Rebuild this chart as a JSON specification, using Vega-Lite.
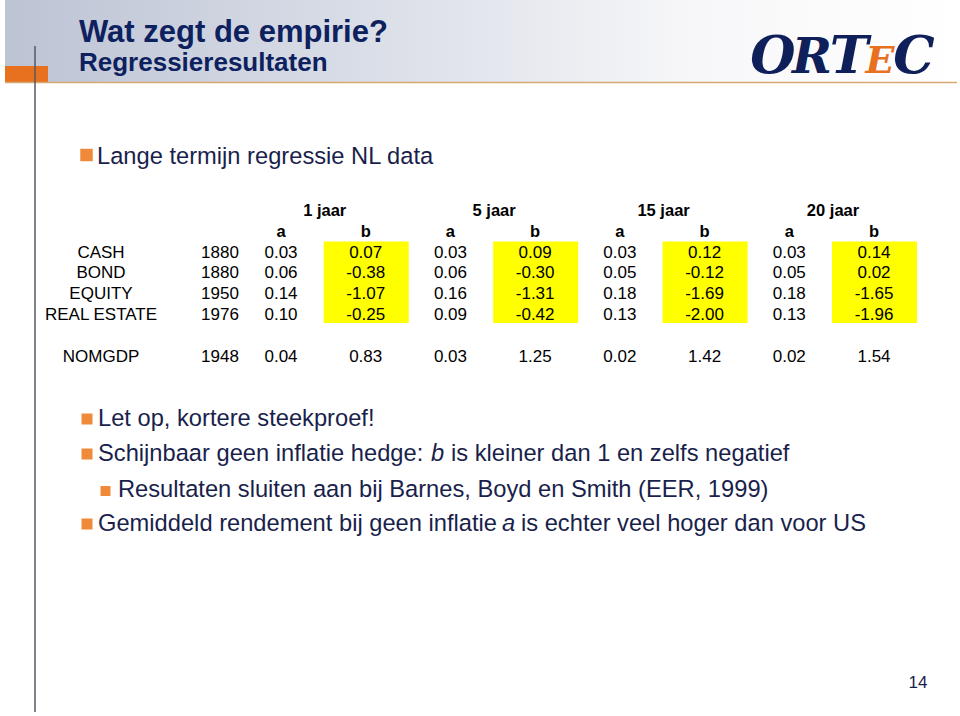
{
  "$schema": "https://vega.github.io/schema/vega-lite/v6.json",
  "width": 960,
  "height": 716,
  "padding": 0,
  "autosize": "none",
  "background": "white",
  "config": {
    "view": {"stroke": null},
    "axis": {"disable": true},
    "locale": {"number": {"decimal": ".", "thousands": ",", "grouping": [3], "currency": ["$", ""], "minus": "-"}},
    "text": {"font": "Liberation Sans"}
  },
  "datasets": {
    "coef": [
      {"asset": "CASH", "start": 1880, "a1": 0.03, "b1": 0.07, "a5": 0.03, "b5": 0.09, "a15": 0.03, "b15": 0.12, "a20": 0.03, "b20": 0.14},
      {"asset": "BOND", "start": 1880, "a1": 0.06, "b1": -0.38, "a5": 0.06, "b5": -0.30, "a15": 0.05, "b15": -0.12, "a20": 0.05, "b20": 0.02},
      {"asset": "EQUITY", "start": 1950, "a1": 0.14, "b1": -1.07, "a5": 0.16, "b5": -1.31, "a15": 0.18, "b15": -1.69, "a20": 0.18, "b20": -1.65},
      {"asset": "REAL ESTATE", "start": 1976, "a1": 0.10, "b1": -0.25, "a5": 0.09, "b5": -0.42, "a15": 0.13, "b15": -2.00, "a20": 0.13, "b20": -1.96},
      {"asset": "NOMGDP", "start": 1948, "a1": 0.04, "b1": 0.83, "a5": 0.03, "b5": 1.25, "a15": 0.02, "b15": 1.42, "a20": 0.02, "b20": 1.54}
    ],
    "cols": [
      {"col": "a1", "param": "a"}, {"col": "b1", "param": "b"},
      {"col": "a5", "param": "a"}, {"col": "b5", "param": "b"},
      {"col": "a15", "param": "a"}, {"col": "b15", "param": "b"},
      {"col": "a20", "param": "a"}, {"col": "b20", "param": "b"}
    ],
    "horizons": [
      {"col": "b1", "label": "1 jaar"}, {"col": "b5", "label": "5 jaar"},
      {"col": "b15", "label": "15 jaar"}, {"col": "b20", "label": "20 jaar"}
    ],
    "highlight": [{"col": "b1"}, {"col": "b5"}, {"col": "b15"}, {"col": "b20"}]
  },
  "layer": [
    {
      "data": {"values": [{"part": "banner"}]},
      "mark": {"type": "rect", "fill": {"gradient": "linear", "x1": 0, "y1": 0, "x2": 1, "y2": 0, "stops": [{"offset": 0, "color": "#bcc3d3"}, {"offset": 0.25, "color": "#d0d5e1"}, {"offset": 0.5, "color": "#e3e6ed"}, {"offset": 0.72, "color": "#f7f7f9"}, {"offset": 1, "color": "#ffffff"}]}},
      "encoding": {"x": {"value": 5}, "x2": {"value": 960}, "y": {"value": 0}, "y2": {"value": 82}}
    },
    {
      "data": {"values": [{"part": "block"}]},
      "mark": {"type": "rect", "fill": "#e8711f"},
      "encoding": {"x": {"value": 5}, "x2": {"value": 48}, "y": {"value": 66}, "y2": {"value": 82}}
    },
    {
      "data": {"values": [{"part": "hline"}]},
      "mark": {"type": "rule", "stroke": "#d6a873", "strokeWidth": 1.5},
      "encoding": {"x": {"value": 5}, "x2": {"value": 957}, "y": {"value": 82.5}}
    },
    {
      "data": {"values": [{"part": "vline"}]},
      "mark": {"type": "rule", "stroke": "#555a62", "strokeWidth": 1.5},
      "encoding": {"x": {"value": 35}, "y": {"value": 46}, "y2": {"value": 712}}
    },
    {
      "data": {"values": [{"t": "Wat zegt de empirie?"}]},
      "mark": {"type": "text", "align": "left", "baseline": "alphabetic", "fontSize": 31, "fontWeight": "bold", "color": "#0d215f"},
      "encoding": {"x": {"value": 79}, "y": {"value": 42}, "text": {"field": "t"}}
    },
    {
      "data": {"values": [{"t": "Regressieresultaten"}]},
      "mark": {"type": "text", "align": "left", "baseline": "alphabetic", "fontSize": 26, "fontWeight": "bold", "color": "#0d215f"},
      "encoding": {"x": {"value": 79}, "y": {"value": 71}, "text": {"field": "t"}}
    },
    {
      "data": {"values": [{"t": "O"}]},
      "mark": {"type": "text", "align": "center", "baseline": "alphabetic", "fontSize": 52, "fontWeight": "bold", "fontStyle": "italic", "font": "DejaVu Serif", "color": "#0f1f5a"},
      "encoding": {"x": {"value": 773}, "y": {"value": 73}, "text": {"field": "t"}}
    },
    {
      "data": {"values": [{"t": "R"}]},
      "mark": {"type": "text", "align": "center", "baseline": "alphabetic", "fontSize": 48, "fontWeight": "bold", "fontStyle": "italic", "font": "DejaVu Serif", "color": "#0f1f5a"},
      "encoding": {"x": {"value": 812}, "y": {"value": 73}, "text": {"field": "t"}}
    },
    {
      "data": {"values": [{"t": "T"}]},
      "mark": {"type": "text", "align": "center", "baseline": "alphabetic", "fontSize": 52, "fontWeight": "bold", "fontStyle": "italic", "font": "DejaVu Serif", "color": "#0f1f5a"},
      "encoding": {"x": {"value": 849}, "y": {"value": 73}, "text": {"field": "t"}}
    },
    {
      "data": {"values": [{"t": "E"}]},
      "mark": {"type": "text", "align": "center", "baseline": "alphabetic", "fontSize": 38, "fontWeight": "bold", "fontStyle": "italic", "font": "DejaVu Serif", "color": "#e8711f"},
      "encoding": {"x": {"value": 880}, "y": {"value": 73}, "text": {"field": "t"}}
    },
    {
      "data": {"values": [{"t": "C"}]},
      "mark": {"type": "text", "align": "center", "baseline": "alphabetic", "fontSize": 52, "fontWeight": "bold", "fontStyle": "italic", "font": "DejaVu Serif", "color": "#0f1f5a"},
      "encoding": {"x": {"value": 914}, "y": {"value": 73}, "text": {"field": "t"}}
    },
    {
      "data": {"values": [{"level": 1, "t": "Lange termijn regressie NL data"}]},
      "layer": [
        {"mark": {"type": "square", "size": 156, "opacity": 1, "color": "#f08a3a"}, "encoding": {"x": {"value": 86.5}, "y": {"value": 155}}},
        {"mark": {"type": "text", "align": "left", "baseline": "alphabetic", "fontSize": 23.7, "color": "#1a1f4c"}, "encoding": {"x": {"value": 97}, "y": {"value": 164}, "text": {"field": "t"}}}
      ]
    },
    {
      "data": {"name": "highlight"},
      "mark": {"type": "rect", "color": "#ffff00", "xOffset": -42, "x2Offset": 43, "yOffset": -16, "y2Offset": 3},
      "encoding": {
        "x": {"field": "col", "type": "nominal", "scale": {"type": "point", "domain": ["a1", "b1", "a5", "b5", "a15", "b15", "a20", "b20"], "range": [281, 874], "padding": 0}},
        "x2": {"field": "col"},
        "y": {"datum": "CASH", "type": "nominal", "scale": {"type": "point", "domain": ["hdr1", "hdr2", "CASH", "BOND", "EQUITY", "REAL ESTATE", "gap", "NOMGDP"], "range": [216, 361.6], "padding": 0}},
        "y2": {"datum": "REAL ESTATE"}
      }
    },
    {
      "data": {"name": "horizons"},
      "mark": {"type": "text", "align": "center", "baseline": "alphabetic", "fontSize": 16.5, "fontWeight": "bold", "color": "#000000", "dx": -41},
      "encoding": {
        "x": {"field": "col", "type": "nominal", "scale": {"type": "point", "domain": ["a1", "b1", "a5", "b5", "a15", "b15", "a20", "b20"], "range": [281, 874], "padding": 0}},
        "y": {"datum": "hdr1", "type": "nominal", "scale": {"type": "point", "domain": ["hdr1", "hdr2", "CASH", "BOND", "EQUITY", "REAL ESTATE", "gap", "NOMGDP"], "range": [216, 361.6], "padding": 0}},
        "text": {"field": "label"}
      }
    },
    {
      "data": {"name": "cols"},
      "mark": {"type": "text", "align": "center", "baseline": "alphabetic", "fontSize": 16.5, "fontWeight": "bold", "color": "#000000"},
      "encoding": {
        "x": {"field": "col", "type": "nominal", "scale": {"type": "point", "domain": ["a1", "b1", "a5", "b5", "a15", "b15", "a20", "b20"], "range": [281, 874], "padding": 0}},
        "y": {"datum": "hdr2", "type": "nominal", "scale": {"type": "point", "domain": ["hdr1", "hdr2", "CASH", "BOND", "EQUITY", "REAL ESTATE", "gap", "NOMGDP"], "range": [216, 361.6], "padding": 0}},
        "text": {"field": "param"}
      }
    },
    {
      "data": {"name": "coef"},
      "mark": {"type": "text", "align": "center", "baseline": "alphabetic", "fontSize": 17, "color": "#000000"},
      "encoding": {
        "x": {"value": 101},
        "y": {"field": "asset", "type": "nominal", "scale": {"type": "point", "domain": ["hdr1", "hdr2", "CASH", "BOND", "EQUITY", "REAL ESTATE", "gap", "NOMGDP"], "range": [216, 361.6], "padding": 0}},
        "text": {"field": "asset"}
      }
    },
    {
      "data": {"name": "coef"},
      "mark": {"type": "text", "align": "center", "baseline": "alphabetic", "fontSize": 17, "color": "#000000"},
      "encoding": {
        "x": {"value": 220},
        "y": {"field": "asset", "type": "nominal", "scale": {"type": "point", "domain": ["hdr1", "hdr2", "CASH", "BOND", "EQUITY", "REAL ESTATE", "gap", "NOMGDP"], "range": [216, 361.6], "padding": 0}},
        "text": {"field": "start", "type": "nominal"}
      }
    },
    {
      "data": {"name": "coef"},
      "transform": [{"fold": ["a1", "b1", "a5", "b5", "a15", "b15", "a20", "b20"], "as": ["col", "value"]}],
      "mark": {"type": "text", "align": "center", "baseline": "alphabetic", "fontSize": 17, "color": "#000000"},
      "encoding": {
        "x": {"field": "col", "type": "nominal", "scale": {"type": "point", "domain": ["a1", "b1", "a5", "b5", "a15", "b15", "a20", "b20"], "range": [281, 874], "padding": 0}},
        "y": {"field": "asset", "type": "nominal", "scale": {"type": "point", "domain": ["hdr1", "hdr2", "CASH", "BOND", "EQUITY", "REAL ESTATE", "gap", "NOMGDP"], "range": [216, 361.6], "padding": 0}},
        "text": {"field": "value", "type": "quantitative", "format": ".2f"}
      }
    },
    {
      "data": {"values": [{"t": "Let op, kortere steekproef!"}]},
      "layer": [
        {"mark": {"type": "square", "size": 121, "opacity": 1, "color": "#f08a3a"}, "encoding": {"x": {"value": 87}, "y": {"value": 419}}},
        {"mark": {"type": "text", "align": "left", "baseline": "alphabetic", "fontSize": 23.7, "color": "#1a1f4c"}, "encoding": {"x": {"value": 98}, "y": {"value": 426}, "text": {"field": "t"}}}
      ]
    },
    {
      "data": {"values": [{"t1": "Schijnbaar geen inflatie hedge:", "t2": "b", "t3": "is kleiner dan 1 en zelfs negatief"}]},
      "layer": [
        {"mark": {"type": "square", "size": 121, "opacity": 1, "color": "#f08a3a"}, "encoding": {"x": {"value": 87}, "y": {"value": 454}}},
        {"mark": {"type": "text", "align": "left", "baseline": "alphabetic", "fontSize": 23.7, "color": "#1a1f4c"}, "encoding": {"x": {"value": 98}, "y": {"value": 461}, "text": {"field": "t1"}}},
        {"mark": {"type": "text", "align": "left", "baseline": "alphabetic", "fontSize": 23.7, "fontStyle": "italic", "color": "#1a1f4c"}, "encoding": {"x": {"value": 431}, "y": {"value": 461}, "text": {"field": "t2"}}},
        {"mark": {"type": "text", "align": "left", "baseline": "alphabetic", "fontSize": 23.7, "color": "#1a1f4c"}, "encoding": {"x": {"value": 451}, "y": {"value": 461}, "text": {"field": "t3"}}}
      ]
    },
    {
      "data": {"values": [{"t": "Resultaten sluiten aan bij Barnes, Boyd en Smith (EER, 1999)"}]},
      "layer": [
        {"mark": {"type": "square", "size": 100, "opacity": 1, "color": "#f08a3a"}, "encoding": {"x": {"value": 105.5}, "y": {"value": 491}}},
        {"mark": {"type": "text", "align": "left", "baseline": "alphabetic", "fontSize": 23.7, "color": "#1a1f4c"}, "encoding": {"x": {"value": 118}, "y": {"value": 497}, "text": {"field": "t"}}}
      ]
    },
    {
      "data": {"values": [{"t1": "Gemiddeld rendement bij geen inflatie", "t2": "a", "t3": "is echter veel hoger dan voor US"}]},
      "layer": [
        {"mark": {"type": "square", "size": 121, "opacity": 1, "color": "#f08a3a"}, "encoding": {"x": {"value": 87}, "y": {"value": 524}}},
        {"mark": {"type": "text", "align": "left", "baseline": "alphabetic", "fontSize": 23.7, "color": "#1a1f4c"}, "encoding": {"x": {"value": 98}, "y": {"value": 531}, "text": {"field": "t1"}}},
        {"mark": {"type": "text", "align": "left", "baseline": "alphabetic", "fontSize": 23.7, "fontStyle": "italic", "color": "#1a1f4c"}, "encoding": {"x": {"value": 502}, "y": {"value": 531}, "text": {"field": "t2"}}},
        {"mark": {"type": "text", "align": "left", "baseline": "alphabetic", "fontSize": 23.7, "color": "#1a1f4c"}, "encoding": {"x": {"value": 521}, "y": {"value": 531}, "text": {"field": "t3"}}}
      ]
    },
    {
      "data": {"values": [{"t": "14"}]},
      "mark": {"type": "text", "align": "center", "baseline": "alphabetic", "fontSize": 17, "color": "#1a1f4c"},
      "encoding": {"x": {"value": 918}, "y": {"value": 688}, "text": {"field": "t"}}
    }
  ]
}
